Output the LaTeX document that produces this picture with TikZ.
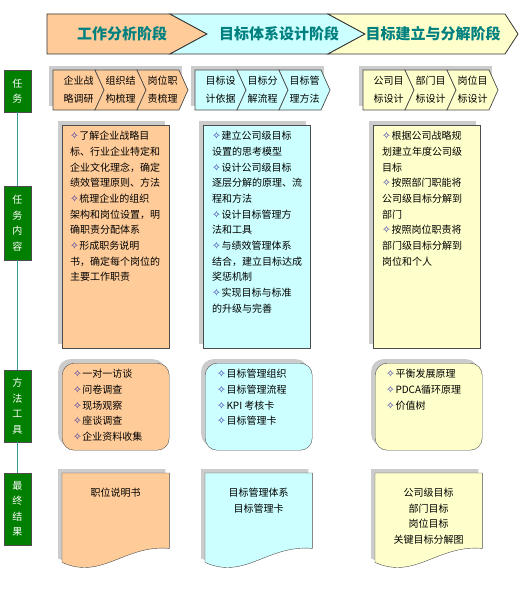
\documentclass[tikz,border=0pt]{standalone}
\usepackage{fontspec}
\setmainfont{Noto Sans CJK SC}
\newfontfamily\dingfont{DejaVu Sans}
\usetikzlibrary{shadows}
\definecolor{orangefill}{HTML}{FFCC99}
\definecolor{cyanfill}{HTML}{CCFFFF}
\definecolor{yellowfill}{HTML}{FFFFCC}
\definecolor{stagecol}{HTML}{00807F}
\definecolor{labelgreen}{HTML}{007F00}
\definecolor{trunkcol}{HTML}{339999}
\definecolor{bulletblue}{HTML}{2E2EA8}
\newcommand{\bul}{{\dingfont\fontsize{10.5}{10.5}\selectfont\color{bulletblue}✧}\hspace{0.5pt}}
% x, y top, body width, height, tip, notch, style
\newcommand{\chevron}[7]{\draw[#7] (#1,#2) -- ++(#3,0) -- ++(#5,#4/2) -- ++(-#5,#4/2) -- ++(-#3,0) -- ++(#6,-#4/2) -- cycle;}
\tikzstyle{boxshadow} = [drop shadow={shadow xshift=-4pt, shadow yshift=4pt, fill=black!40, opacity=.5}]
\tikzstyle{stageedge} = [draw=black!80, line width=0.8pt]
\tikzstyle{stagetext} = [inner sep=0pt, font=\bfseries\fontsize{15}{15}\selectfont, text=stagecol]
\tikzstyle{taskedge} = [draw=black!70, line width=0.7pt]
\tikzstyle{tasktext} = [inner sep=0pt, align=center, font=\fontsize{10}{18}\selectfont]
\tikzstyle{phase} = [rectangle, draw=black!70, fill=labelgreen, text=white, minimum width=27pt, align=center, font=\fontsize{10}{15.5}\selectfont]
\tikzstyle{contentbox} = [rectangle, draw=black!70, minimum width=107pt, minimum height=223pt, anchor=north west, boxshadow]
\tikzstyle{methodbox} = [rectangle, rounded corners=12pt, draw=black!70, minimum width=107pt, minimum height=87pt, anchor=north west, boxshadow]
\tikzstyle{itemtext} = [anchor=north west, inner sep=0pt, align=left, font=\fontsize{10}{15.7}\selectfont]
\tikzstyle{resultbox} = [rectangle, minimum width=107pt, minimum height=89pt, anchor=north west]
\tikzstyle{resultedge} = [draw=black!70, boxshadow]
\tikzstyle{resulttext} = [anchor=north, inner sep=0pt, align=center, font=\fontsize{10}{15.6}\selectfont]
\tikzstyle{trunk} = [draw=trunkcol, line width=1.5pt]
\begin{document}
\begin{tikzpicture}[x=1pt, y=-1pt]
\useasboundingbox (0,0) rectangle (520,610);

% stages
\chevron{47}{14}{123}{40}{37}{0}{stageedge, fill=orangefill}
\chevron{170}{14}{158}{40}{37}{37}{stageedge, fill=cyanfill}
\chevron{328}{14}{177}{40}{13}{37}{stageedge, fill=yellowfill}
\node [stagetext] (analysis) at (122,34) {工作分析阶段};
\node [stagetext] (design) at (279,34) {目标体系设计阶段};
\node [stagetext] (decompose) at (433,34) {目标建立与分解阶段};

% left labels
\node [phase, minimum height=42pt] (tasklabel) at (17.5,91) {任\\务};
\node [phase, minimum height=74pt] (contentlabel) at (17.5,223) {任\\务\\内\\容};
\node [phase, minimum height=72pt] (methodlabel) at (17.5,406) {方\\法\\工\\具};
\node [phase, minimum height=72pt] (resultlabel) at (17.5,509) {最\\终\\结\\果};
\draw [trunk] (tasklabel) -- (contentlabel) -- (methodlabel) -- (resultlabel);

% tasks
\fill [black!20] (49,66) rectangle (182,106);
\chevron{53}{70}{42}{40}{9}{0}{taskedge, fill=orangefill}
\chevron{95}{70}{42}{40}{9}{9}{taskedge, fill=orangefill}
\chevron{137}{70}{42}{40}{9}{9}{taskedge, fill=orangefill}
\node [tasktext] (survey) at (78.5,90) {企业战\\略调研};
\node [tasktext] (orgsort) at (120.5,90) {组织结\\构梳理};
\node [tasktext] (dutysort) at (162.5,90) {岗位职\\责梳理};
\fill [black!20] (191,66) rectangle (324,106);
\chevron{195}{70}{42}{40}{9}{0}{taskedge, fill=cyanfill}
\chevron{237}{70}{42}{40}{9}{9}{taskedge, fill=cyanfill}
\chevron{279}{70}{42}{40}{9}{9}{taskedge, fill=cyanfill}
\node [tasktext] (basis) at (220.5,90) {目标设\\计依据};
\node [tasktext] (flow) at (262.5,90) {目标分\\解流程};
\node [tasktext] (manage) at (304.5,90) {目标管\\理方法};
\fill [black!20] (359,66) rectangle (492,106);
\chevron{363}{70}{42}{40}{9}{0}{taskedge, fill=yellowfill}
\chevron{405}{70}{42}{40}{9}{9}{taskedge, fill=yellowfill}
\chevron{447}{70}{42}{40}{9}{9}{taskedge, fill=yellowfill}
\node [tasktext] (corpgoal) at (388.5,90) {公司目\\标设计};
\node [tasktext] (deptgoal) at (430.5,90) {部门目\\标设计};
\node [tasktext] (postgoal) at (472.5,90) {岗位目\\标设计};

% task contents
\node [contentbox, fill=orangefill] (content1) at (62,125) {};
\node [itemtext] (content1text) at ([xshift=8pt,yshift=-6pt]content1.north west)
  {\bul 了解企业战略目\\标、行业企业特定和\\企业文化理念，确定\\绩效管理原则、方法\\\bul 梳理企业的组织\\架构和岗位设置，明\\确职责分配体系\\\bul 形成职务说明\\书，确定每个岗位的\\主要工作职责};
\node [contentbox, fill=cyanfill] (content2) at (203,125) {};
\node [itemtext] (content2text) at ([xshift=9pt,yshift=-6pt]content2.north west)
  {\bul 建立公司级目标\\设置的思考模型\\\bul 设计公司级目标\\逐层分解的原理、流\\程和方法\\\bul 设计目标管理方\\法和工具\\\bul 与绩效管理体系\\结合，建立目标达成\\奖惩机制\\\bul 实现目标与标准\\的升级与完善};
\node [contentbox, fill=yellowfill] (content3) at (373,125) {};
\node [itemtext] (content3text) at ([xshift=9pt,yshift=-6pt]content3.north west)
  {\bul 根据公司战略规\\划建立年度公司级\\目标\\\bul 按照部门职能将\\公司级目标分解到\\部门\\\bul 按照岗位职责将\\部门级目标分解到\\岗位和个人};

% methods and tools
\node [methodbox, fill=orangefill] (method1) at (62,363) {};
\node [itemtext] (method1text) at ([xshift=11pt,yshift=-6pt]method1.north west)
  {\bul 一对一访谈\\\bul 问卷调查\\\bul 现场观察\\\bul 座谈调查\\\bul 企业资料收集};
\node [methodbox, fill=cyanfill] (method2) at (205,363) {};
\node [itemtext] (method2text) at ([xshift=12pt,yshift=-6pt]method2.north west)
  {\bul 目标管理组织\\\bul 目标管理流程\\\bul KPI 考核卡\\\bul 目标管理卡};
\node [methodbox, fill=yellowfill] (method3) at (375,363) {};
\node [itemtext] (method3text) at ([xshift=11pt,yshift=-6pt]method3.north west)
  {\bul 平衡发展原理\\\bul PDCA循环原理\\\bul 价值树};

% results
\node [resultbox] (result1) at (62,473) {};
\path [resultedge, fill=orangefill] (result1.north west) -- (result1.north east) -- ([yshift=14pt]result1.south east) .. controls +(-45,-4) and +(40,18) .. (result1.south west) -- cycle;
\node [resulttext] (result1text) at ([yshift=-15pt]result1.north) {职位说明书};
\node [resultbox] (result2) at (205,473) {};
\path [resultedge, fill=cyanfill] (result2.north west) -- (result2.north east) -- ([yshift=14pt]result2.south east) .. controls +(-45,-4) and +(40,18) .. (result2.south west) -- cycle;
\node [resulttext] (result2text) at ([yshift=-15pt]result2.north) {目标管理体系\\目标管理卡};
\node [resultbox] (result3) at (375,473) {};
\path [resultedge, fill=yellowfill] (result3.north west) -- (result3.north east) -- ([yshift=14pt]result3.south east) .. controls +(-45,-4) and +(40,18) .. (result3.south west) -- cycle;
\node [resulttext] (result3text) at ([yshift=-15pt]result3.north) {公司级目标\\部门目标\\岗位目标\\关键目标分解图};

\end{tikzpicture}
\end{document}
